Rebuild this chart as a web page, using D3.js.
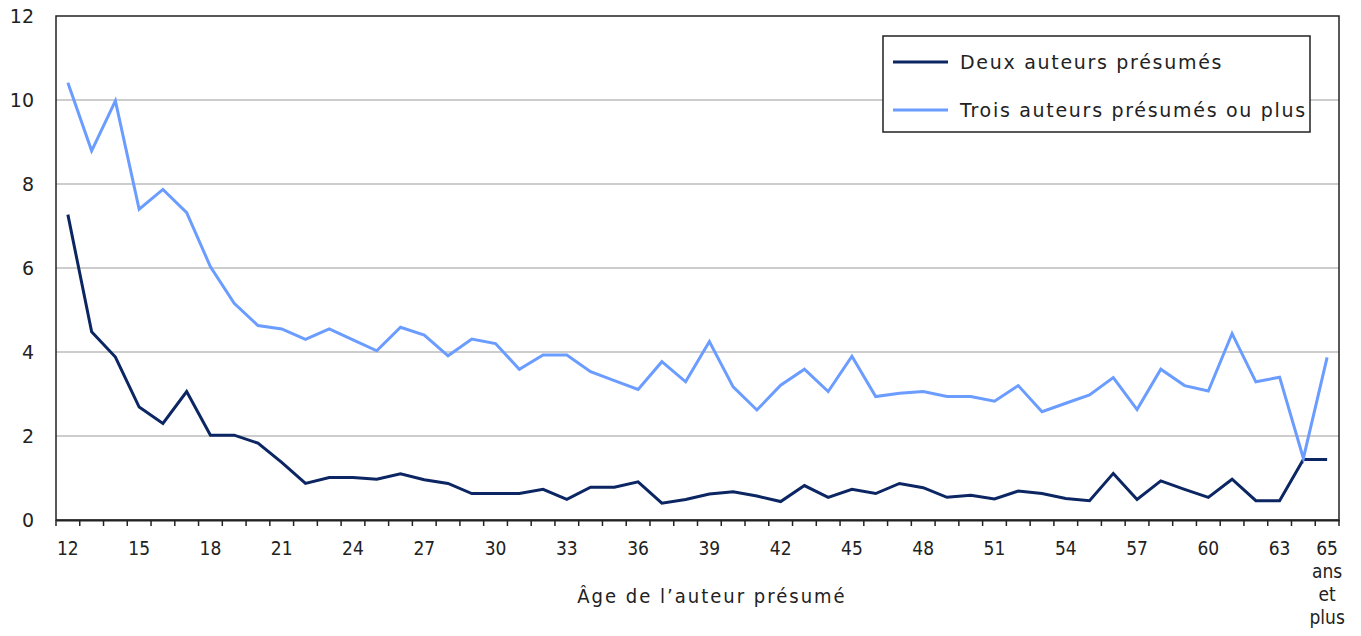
<!DOCTYPE html>
<html><head><meta charset="utf-8">
<script src="https://cdn.jsdelivr.net/npm/d3@7"></script>
<style>
body{margin:0;background:#fff;}
svg{display:block;}
</style></head>
<body>
<svg id="chart" width="1361" height="636"></svg>
<script>
const categories = ["12","13","14","15","16","17","18","19","20","21","22","23","24","25","26","27","28","29","30","31","32","33","34","35","36","37","38","39","40","41","42","43","44","45","46","47","48","49","50","51","52","53","54","55","56","57","58","59","60","61","62","63","64","65"];
const deux = [7.27,4.48,3.88,2.69,2.30,3.06,2.02,2.02,1.83,1.37,0.87,1.01,1.01,0.97,1.10,0.96,0.87,0.63,0.63,0.63,0.73,0.49,0.78,0.78,0.91,0.40,0.49,0.62,0.67,0.57,0.44,0.82,0.54,0.73,0.63,0.87,0.77,0.54,0.59,0.50,0.69,0.63,0.51,0.46,1.11,0.49,0.93,0.73,0.54,0.97,0.46,0.46,1.44,1.44];
const trois = [10.41,8.79,9.98,7.40,7.87,7.32,6.03,5.16,4.63,4.55,4.30,4.55,4.29,4.03,4.59,4.40,3.91,4.31,4.20,3.59,3.93,3.93,3.53,3.32,3.11,3.77,3.29,4.25,3.17,2.62,3.21,3.59,3.06,3.90,2.94,3.02,3.06,2.94,2.94,2.83,3.20,2.58,2.78,2.98,3.39,2.63,3.59,3.20,3.07,4.44,3.29,3.40,1.47,3.87];
const tickLabels = {"12":["12"],"15":["15"],"18":["18"],"21":["21"],"24":["24"],"27":["27"],"30":["30"],"33":["33"],"36":["36"],"39":["39"],"42":["42"],"45":["45"],"48":["48"],"51":["51"],"54":["54"],"57":["57"],"60":["60"],"63":["63"],"65":["65","ans","et","plus"]};
const yTicks = [0,2,4,6,8,10,12];
const seriesNames = ["Deux auteurs présumés","Trois auteurs présumés ou plus"];
const colors = ["#0b2663","#6b9cff"];
const xTitle = "Âge de l’auteur présumé";

const svg = d3.select("#chart");
const L = 56, R = 1339, T = 16, B = 520;
const x = d3.scaleBand().domain(categories).range([L, R]);
const y = d3.scaleLinear().domain([0, 12]).range([B, T]);
const xc = c => x(c) + x.bandwidth()/2;

// gridlines
svg.append("g").selectAll("line").data(yTicks.filter(d => d > 0 && d < 12)).join("line")
  .attr("x1", L).attr("x2", R).attr("y1", d => y(d)).attr("y2", d => y(d))
  .attr("stroke", "#bdbdbd").attr("stroke-width", 1.5);

// frame
svg.append("rect").attr("x", L).attr("y", T).attr("width", R - L).attr("height", B - T)
  .attr("fill", "none").attr("stroke", "#222").attr("stroke-width", 1.5);

// y labels
svg.append("g").selectAll("text").data(yTicks).join("text")
  .attr("x", 34).attr("y", d => y(d)).attr("dy", "0.36em")
  .attr("text-anchor", "end")
  .style("font-family", "'DejaVu Sans', Verdana, sans-serif").style("font-size", "19px").attr("fill", "#222")
  .text(d => d);

// x axis
const xAxis = d3.axisBottom(x).tickSize(0).tickFormat("");
const gx = svg.append("g").attr("transform", `translate(0,${B})`).call(xAxis);
gx.select(".domain").attr("stroke", "#222").attr("stroke-width", 2);
const boundaries = categories.map(c => x(c)).concat([x(categories[categories.length-1]) + x.bandwidth()]);
gx.selectAll("line.tk").data(boundaries).join("line").attr("class", "tk")
  .attr("x1", d => d).attr("x2", d => d).attr("y1", 0).attr("y2", 6)
  .attr("stroke", "#222").attr("stroke-width", 1.5);

const xl = svg.append("g");
Object.entries(tickLabels).forEach(([c, lines]) => {
  const t = xl.append("text").attr("x", xc(c)).attr("y", 555).attr("text-anchor", "middle")
    .style("font-family", "'DejaVu Sans Condensed', 'Liberation Sans Narrow', sans-serif").style("font-size", "19px").attr("fill", "#222");
  lines.forEach((ln, i) => t.append("tspan").attr("x", xc(c)).attr("y", 555 + i * 23).text(ln));
});

svg.append("text").attr("x", 712).attr("y", 603).attr("text-anchor", "middle")
  .style("font-family", "'DejaVu Sans Condensed', sans-serif").style("font-size", "20px")
  .style("letter-spacing", "2px").attr("fill", "#222")
  .text(xTitle);

// lines
const line = d3.line().x((d, i) => xc(categories[i])).y(d => y(d));
[deux, trois].forEach((s, k) => {
  svg.append("path").datum(s).attr("d", line).attr("fill", "none")
    .attr("stroke", colors[k]).attr("stroke-width", 3).attr("stroke-linejoin", "miter");
});

// legend
const lg = svg.append("g");
lg.append("rect").attr("x", 883).attr("y", 36).attr("width", 427).attr("height", 96)
  .attr("fill", "#fff").attr("stroke", "#222").attr("stroke-width", 1.5);
seriesNames.forEach((n, i) => {
  const yy = 62 + i * 48;
  lg.append("line").attr("x1", 893).attr("x2", 948).attr("y1", yy).attr("y2", yy)
    .attr("stroke", colors[i]).attr("stroke-width", 3);
  lg.append("text").attr("x", 960).attr("y", yy).attr("dy", "0.35em")
    .style("font-family", "'DejaVu Sans', Verdana, sans-serif").style("font-size", "19px")
    .style("letter-spacing", "1.7px").attr("fill", "#222")
    .text(n);
});
</script>
</body></html>
